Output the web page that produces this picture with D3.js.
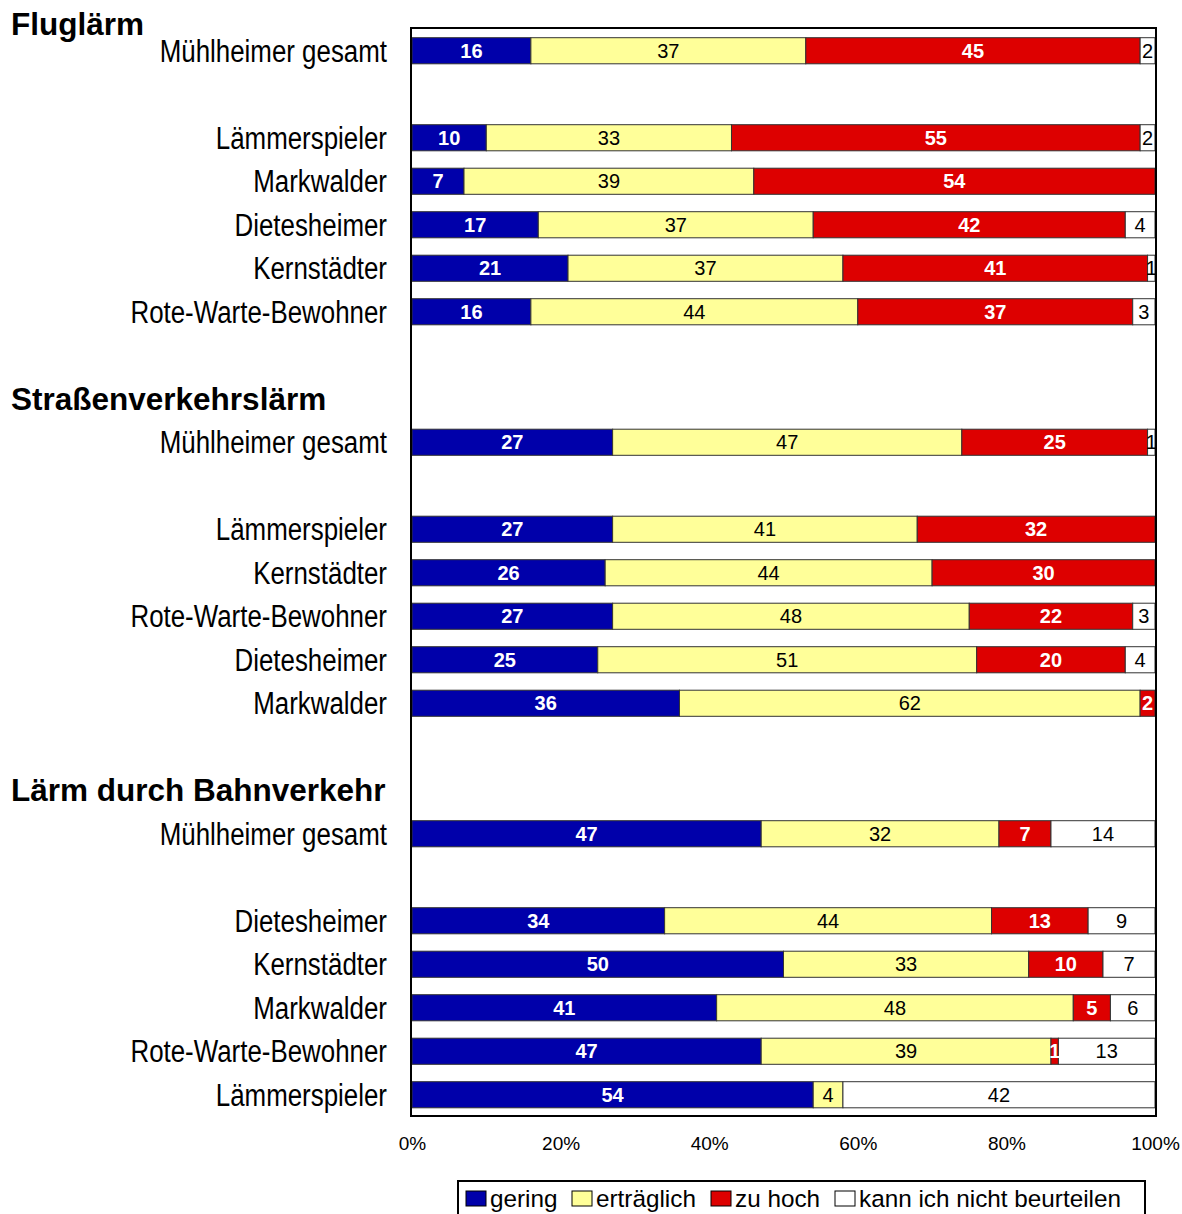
<!DOCTYPE html>
<html>
<head>
<meta charset="utf-8">
<script src="https://cdn.jsdelivr.net/npm/d3@7"></script>
<style>
  body { margin: 0; background: #fff; }
  svg { display: block; }
</style>
</head>
<body>
<div id="chart"></div>
<script>
// rows top to bottom, "" = empty slot, "#" = group header slot
var rows = ["Mühlheimer gesamt", "", "Lämmerspieler", "Markwalder", "Dietesheimer", "Kernstädter", "Rote-Warte-Bewohner", "",
            "#Straßenverkehrslärm", "Mühlheimer gesamt", "", "Lämmerspieler", "Kernstädter", "Rote-Warte-Bewohner", "Dietesheimer", "Markwalder", "",
            "#Lärm durch Bahnverkehr", "Mühlheimer gesamt", "", "Dietesheimer", "Kernstädter", "Markwalder", "Rote-Warte-Bewohner", "Lämmerspieler"];
var firstHeader = "Fluglärm";

var gering      = [16, null, 10,  7, 17, 21, 16, null, null, 27, null, 27, 26, 27, 25, 36, null, null, 47, null, 34, 50, 41, 47, 54];
var ertraeglich = [37, null, 33, 39, 37, 37, 44, null, null, 47, null, 41, 44, 48, 51, 62, null, null, 32, null, 44, 33, 48, 39,  4];
var zuHoch      = [45, null, 55, 54, 42, 41, 37, null, null, 25, null, 32, 30, 22, 20,  2, null, null,  7, null, 13, 10,  5,  1,  0];
var nichtBeurt  = [ 2, null,  2,  0,  4,  1,  3, null, null,  1, null,  0,  0,  3,  4,  0, null, null, 14, null,  9,  7,  6, 13, 42];

var seriesNames = ["gering", "erträglich", "zu hoch", "kann ich nicht beurteilen"];
var colors = ["#0000AA", "#FFFF99", "#DD0000", "#FFFFFF"];
var labelColors = ["#fff", "#000", "#fff", "#000"];
var labelWeights = ["bold", "normal", "bold", "normal"];
var ticks = [0, 20, 40, 60, 80, 100];

var W = 1182, H = 1214;
var svg = d3.select("#chart").append("svg").attr("width", W).attr("height", H);

var keys = rows.map(function(d, i) { return "r" + i; });
var x = d3.scaleLinear().domain([0, 100]).range([412, 1155]);
var y = d3.scaleBand().domain(keys).range([29, 1116.5]).paddingInner(0.4).paddingOuter(0.2);

var font = "'Liberation Sans', Arial, sans-serif";

// build stacked data
var table = rows.map(function(r, i) {
  return { key: keys[i], label: r, vals: [gering[i], ertraeglich[i], zuHoch[i], nichtBeurt[i]] };
}).filter(function(d) { return d.vals[0] != null; });

var segs = [];
table.forEach(function(d) {
  var total = d3.sum(d.vals), acc = 0;
  d.vals.forEach(function(v, s) {
    segs.push({ key: d.key, s: s, v: v, x0: acc / total * 100, x1: (acc + v) / total * 100 });
    acc += v;
  });
});

// bars
svg.append("g").selectAll("rect")
  .data(segs.filter(function(d) { return d.v > 0; }))
  .enter().append("rect")
  .attr("x", function(d) { return x(d.x0); })
  .attr("y", function(d) { return y(d.key); })
  .attr("width", function(d) { return x(d.x1) - x(d.x0); })
  .attr("height", y.bandwidth())
  .attr("fill", function(d) { return colors[d.s]; })
  .attr("stroke", "#333")
  .attr("stroke-width", 1);

// value labels
svg.append("g").selectAll("text")
  .data(segs.filter(function(d) { return d.v > 0; }))
  .enter().append("text")
  .attr("x", function(d) { return (x(d.x0) + x(d.x1)) / 2; })
  .attr("y", function(d) { return y(d.key) + y.bandwidth() / 2; })
  .attr("dy", "0.36em")
  .attr("text-anchor", "middle")
  .attr("font-family", font)
  .attr("font-size", 20)
  .attr("font-weight", function(d) { return labelWeights[d.s]; })
  .attr("fill", function(d) { return labelColors[d.s]; })
  .text(function(d) { return d.v; });

// plot frame
svg.append("rect")
  .attr("x", 411).attr("y", 28)
  .attr("width", 745).attr("height", 1088)
  .attr("fill", "none").attr("stroke", "#000").attr("stroke-width", 2);

// category labels (condensed like Arial Narrow)
svg.append("g").selectAll("text")
  .data(table)
  .enter().append("text")
  .attr("x", 387)
  .attr("y", function(d) { return y(d.key) + y.bandwidth() / 2; })
  .attr("dy", "0.36em")
  .attr("text-anchor", "end")
  .attr("font-family", font)
  .attr("font-size", 31)
  .attr("fill", "#000")
  .text(function(d) { return d.label; })
  .each(function() {
    var w = this.getComputedTextLength();
    d3.select(this).attr("textLength", w * 0.835).attr("lengthAdjust", "spacingAndGlyphs");
  });

// group headers
var headers = [{ text: firstHeader, y: 35 }];
rows.forEach(function(r, i) {
  if (r.charAt(0) === "#") headers.push({ text: r.slice(1), y: y(keys[i]) + y.bandwidth() / 2 + 11 });
});
svg.append("g").selectAll("text")
  .data(headers)
  .enter().append("text")
  .attr("x", 11)
  .attr("y", function(d) { return d.y; })
  .attr("font-family", font)
  .attr("font-size", 31.5)
  .attr("font-weight", "bold")
  .attr("fill", "#000")
  .text(function(d) { return d.text; });

// x axis
var xAxis = svg.append("g")
  .attr("transform", "translate(0,1116)")
  .call(d3.axisBottom(x).tickValues(ticks).tickSize(0).tickPadding(21).tickFormat(function(d) { return d + "%"; }));
xAxis.select(".domain").remove();
xAxis.selectAll("text").attr("font-family", font).attr("font-size", 19).attr("fill", "#000");

// legend
var legend = svg.append("g");
legend.append("rect")
  .attr("x", 458).attr("y", 1181).attr("width", 687).attr("height", 45)
  .attr("fill", "#fff").attr("stroke", "#000").attr("stroke-width", 2);
var legX = [466, 572, 711, 835];
seriesNames.forEach(function(n, i) {
  legend.append("rect")
    .attr("x", legX[i]).attr("y", 1191).attr("width", 20).attr("height", 15)
    .attr("fill", colors[i]).attr("stroke", "#000").attr("stroke-width", 1);
  legend.append("text")
    .attr("x", legX[i] + 24).attr("y", 1207)
    .attr("font-family", font).attr("font-size", 24.3).attr("fill", "#000")
    .text(n);
});
</script>
</body>
</html>
